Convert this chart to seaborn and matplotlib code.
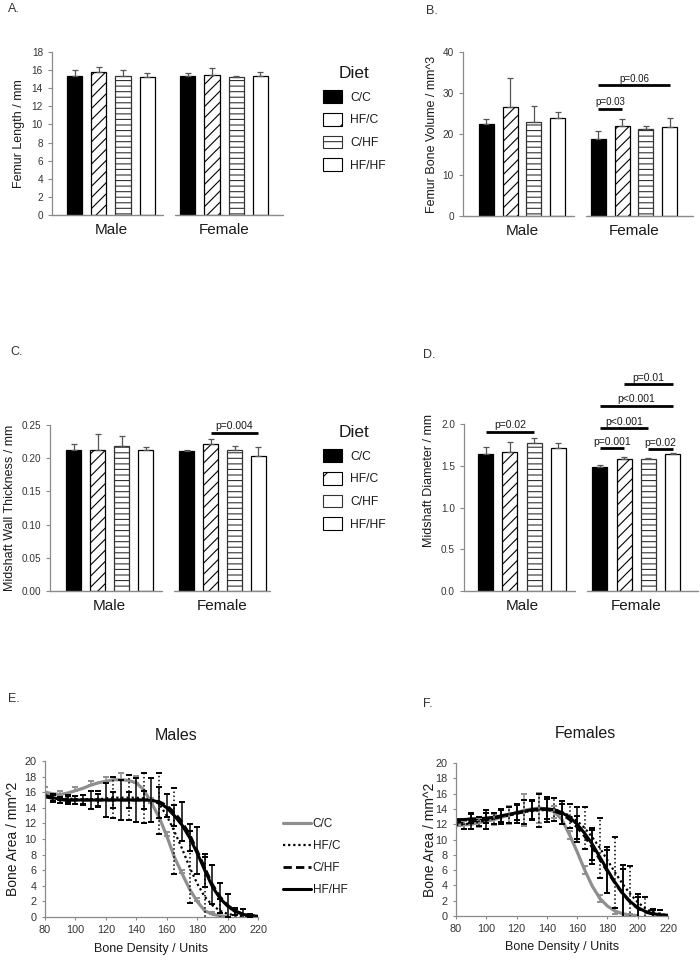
import numpy as np
import pandas as pd
import matplotlib
matplotlib.use("Agg")
import matplotlib.pyplot as plt
import seaborn as sns
from matplotlib.patches import Patch
from matplotlib.lines import Line2D

# ---------------- data ----------------
sexes = ["Male", "Female"]
diets = ["C/C", "HF/C", "C/HF", "HF/HF"]

# Panel A: femur length (mm)
len_male = [15.3, 15.8, 15.35, 15.25]
len_female = [15.4, 15.5, 15.2, 15.35]
len_male_err = [0.7, 0.5, 0.65, 0.4]
len_female_err = [0.3, 0.7, 0.1, 0.4]

# Panel B: femur bone volume (mm^3)
vol_male = [22.4, 26.7, 22.9, 23.9]
vol_female = [18.9, 21.9, 21.2, 21.6]
vol_male_err = [1.2, 6.9, 4.0, 1.4]
vol_female_err = [1.8, 1.7, 0.8, 2.2]

# Panel C: midshaft wall thickness (mm)
wall_male = [0.213, 0.213, 0.219, 0.213]
wall_female = [0.211, 0.221, 0.213, 0.204]
wall_male_err = [0.008, 0.023, 0.014, 0.004]
wall_female_err = [0.002, 0.008, 0.005, 0.013]

# Panel D: midshaft diameter (mm)
diam_male = [1.64, 1.67, 1.78, 1.72]
diam_female = [1.49, 1.58, 1.58, 1.64]
diam_male_err = [0.09, 0.12, 0.05, 0.06]
diam_female_err = [0.02, 0.03, 0.02, 0.02]

# significance brackets: (sex, diet_from, diet_to, y, label)
vol_pvals = [("Female", "C/C", "HF/C", 26.2, "p=0.03"),
             ("Female", "C/C", "HF/HF", 31.9, "p=0.06")]
wall_pvals = [("Female", "HF/C", "HF/HF", 0.238, "p=0.004")]
diam_pvals = [("Male", "C/C", "C/HF", 1.91, "p=0.02"),
              ("Female", "C/C", "HF/C", 1.71, "p=0.001"),
              ("Female", "C/HF", "HF/HF", 1.70, "p=0.02"),
              ("Female", "C/C", "C/HF", 1.95, "p<0.001"),
              ("Female", "C/C", "HF/HF", 2.22, "p<0.001"),
              ("Female", "HF/C", "HF/HF", 2.48, "p=0.01")]

# Panels E/F: bone area vs bone density
density = list(range(80, 225, 5))
nan = np.nan
m_cc = [16.0, 15.8, 15.7, 15.9, 16.2, 16.5, 16.9, 17.2, 17.4, 17.6, 17.6, 17.5, 17.2, 16.3, 14.6,
        12.8, 10.4, 7.7, 5.6, 3.6, 2.0, 0.8, 0.35, 0.15, 0.05, nan, nan, nan, nan]
m_cc_err = [0.7, nan, 0.5, nan, 0.5, nan, 0.5, nan, 0.6, nan, 0.8, nan, 0.9, nan, 0.7,
            nan, 0.5, nan, 0.4, nan, 0.4, nan, 0.3, nan, nan, nan, nan, nan, nan]
m_hfc = [15.5, 15.3, 15.2, 15.2, 15.1, 15.1, 15.1, 15.1, 15.2, 15.3, 15.3, 15.3, 15.3, 15.2, 15.0,
         14.5, 13.0, 11.0, 8.8, 6.4, 4.3, 2.6, 1.5, 0.8, 0.4, 0.2, 0.1, 0.05, 0.0]
m_hfc_err = [nan, 0.5, nan, 0.4, nan, 0.6, nan, 1.0, nan, 2.6, nan, 2.9, nan, 3.2, nan,
             3.9, nan, 5.5, nan, 4.6, nan, 5.1, nan, 1.5, nan, 0.8, nan, nan, nan]
m_chf = [15.4, 15.2, 15.0, 15.0, 15.0, 15.0, 15.0, 15.0, 15.0, 15.0, 15.0, 15.0, 15.0, 15.0, 15.0,
         14.8, 14.3, 13.4, 12.2, 10.6, 8.5, 6.3, 4.2, 2.6, 1.5, 0.8, 0.4, 0.2, 0.1]
m_chf_err = [nan, nan, 0.4, nan, 0.5, nan, 1.1, nan, 2.2, nan, 2.6, nan, 2.8, nan, 2.8,
             nan, 1.5, nan, 2.5, nan, 3.0, nan, 2.5, nan, 1.5, nan, 0.6, nan, nan]
m_hh = [15.6, 15.3, 15.1, 15.0, 15.0, 15.0, 15.0, 15.0, 15.0, 15.0, 15.0, 15.0, 15.0, 15.0, 15.0,
        14.7, 14.0, 13.0, 11.8, 10.2, 8.2, 6.0, 3.9, 2.4, 1.4, 0.7, 0.35, 0.15, 0.1]
m_hh_err = [nan, 0.4, nan, 0.5, nan, 0.6, nan, 0.8, nan, 1.0, nan, 1.0, nan, 1.2, nan,
            2.0, nan, 1.3, nan, 1.7, nan, 2.1, nan, 1.9, nan, 0.5, nan, 0.2, nan]

f_cc = [11.8, 11.9, 12.0, 12.2, 12.4, 12.6, 12.9, 13.2, 13.5, 13.8, 14.0, 14.1, 14.0, 13.6, 12.6,
        10.6, 8.4, 6.0, 3.9, 2.3, 1.3, 0.65, 0.3, 0.12, 0.05, nan, nan, nan, nan]
f_cc_err = [nan, 0.5, nan, 0.6, nan, 0.7, nan, 1.2, nan, 2.1, nan, 2.0, nan, 0.8, nan,
            0.5, nan, 0.5, nan, 0.5, nan, 0.4, nan, 0.2, nan, nan, nan, nan, nan]
f_hfc = [11.9, 12.0, 12.1, 12.3, 12.5, 12.7, 13.0, 13.2, 13.4, 13.6, 13.7, 13.8, 13.9, 13.9, 13.6,
         13.1, 12.4, 11.5, 10.3, 8.9, 7.3, 5.7, 4.2, 2.9, 1.8, 1.0, 0.5, 0.25, 0.1]
f_hfc_err = [nan, 0.6, nan, 0.6, nan, 0.7, nan, 1.0, nan, 1.6, nan, 2.2, nan, 1.5, nan,
             1.6, nan, 2.7, nan, 3.9, nan, 4.6, nan, 3.6, nan, 1.5, nan, 0.5, nan]
f_chf = [12.2, 12.3, 12.4, 12.5, 12.6, 12.8, 13.0, 13.2, 13.4, 13.6, 13.8, 13.9, 13.9, 13.7, 13.3,
         12.6, 11.6, 10.4, 9.0, 7.4, 5.8, 4.3, 2.9, 1.8, 1.0, 0.5, 0.25, 0.1, 0.05]
f_chf_err = [nan, nan, 1.0, nan, 1.2, nan, 1.0, nan, 1.2, nan, 1.2, nan, 1.6, nan, 1.3,
             nan, 1.5, nan, 2.2, nan, 2.8, nan, 3.3, nan, 1.5, nan, 0.5, nan, nan]
f_hh = [12.6, 12.6, 12.7, 12.7, 12.8, 12.9, 13.1, 13.3, 13.5, 13.7, 13.9, 14.0, 14.0, 13.9, 13.5,
        12.9, 12.0, 10.8, 9.4, 7.7, 6.0, 4.4, 3.0, 1.9, 1.1, 0.6, 0.3, 0.15, 0.1]
f_hh_err = [nan, nan, 0.6, nan, 0.7, nan, 0.8, nan, 1.0, nan, 1.2, nan, 1.3, nan, 1.5,
            nan, 2.3, nan, 2.1, nan, 3.0, nan, 3.7, nan, 1.8, nan, 0.6, nan, nan]

# ---------------- style ----------------
sns.set_style("ticks")
plt.rcParams["font.family"] = ["Liberation Sans", "DejaVu Sans"]
plt.rcParams["hatch.linewidth"] = 0.8

W, H = 700, 961
AX_GRAY = "#8a8a8a"
TXT = "#1a1a1a"
TICK_TXT = "#333333"

bar_styles = {
    "C/C": dict(fc="black", ec="black", hatch=""),
    "HF/C": dict(fc="white", ec="black", hatch="///"),
    "C/HF": dict(fc="white", ec="#333333", hatch="---"),
    "HF/HF": dict(fc="white", ec="black", hatch=""),
}

fig = plt.figure(figsize=(W / 100, H / 100), dpi=100)


def px_axes(l, t, r, b):
    return fig.add_axes([l / W, 1 - b / H, (r - l) / W, (b - t) / H])


def style_axes(ax):
    for s in ["top", "right"]:
        ax.spines[s].set_visible(False)
    for s in ["left", "bottom"]:
        ax.spines[s].set_color(AX_GRAY)
        ax.spines[s].set_linewidth(0.9)
    ax.tick_params(colors=AX_GRAY, labelcolor=TICK_TXT, length=3, width=0.8)


def draw_bars(ax, male, female, male_err, female_err, pvals, xlim, ylim, yticks, fmt,
              ylabel, label_x, ptxt_size, yspine=None):
    df = pd.DataFrame({"sex": np.repeat(sexes, 4), "diet": diets * 2,
                       "value": male + female, "err": male_err + female_err})
    sns.barplot(data=df, x="sex", y="value", hue="diet", order=sexes, hue_order=diets,
                width=0.85, gap=0.375, errorbar=None, legend=False, saturation=1, ax=ax)
    centers = {}
    for diet, cont in zip(diets, ax.containers):
        st = bar_styles[diet]
        for bar in cont:
            bar.set_facecolor(st["fc"])
            bar.set_edgecolor(st["ec"])
            bar.set_hatch(st["hatch"])
            bar.set_linewidth(0.9)
            xc = bar.get_x() + bar.get_width() / 2
            sex = sexes[int(round(xc))]
            row = df[(df.sex == sex) & (df.diet == diet)].iloc[0]
            ax.errorbar(xc, row.value, yerr=[[0], [row.err]], fmt="none", ecolor="#555555",
                        elinewidth=0.9, capsize=2.2, capthick=0.9, zorder=3)
            centers[(sex, diet)] = xc
    for sex, d0, d1, y, lab in pvals:
        x0, x1 = centers[(sex, d0)], centers[(sex, d1)]
        ax.plot([x0, x1], [y, y], color="black", lw=2.0, solid_capstyle="butt",
                clip_on=False, zorder=4)
        ax.annotate(lab, ((x0 + x1) / 2, y), xytext=(0, 1.2), textcoords="offset points",
                    ha="center", va="bottom", fontsize=ptxt_size, color=TXT,
                    annotation_clip=False)
    ax.set_xlim(*xlim)
    ax.set_ylim(*ylim)
    style_axes(ax)
    ax.spines["bottom"].set_visible(False)
    for seg in [(xlim[0], 0.46), (0.57, xlim[1])]:
        ax.plot(seg, [0, 0], color=AX_GRAY, lw=1.0, clip_on=False, zorder=5)
    ax.set_yticks(yticks)
    ax.set_yticklabels([fmt.format(v) for v in yticks], fontsize=7.2)
    if yspine is not None:
        ax.spines["left"].set_bounds(*yspine)
    ax.tick_params(axis="x", length=0, pad=6, labelsize=11, labelcolor=TXT)
    ax.set_xlabel("")
    ax.set_ylabel(ylabel, fontsize=9, color=TXT)
    ax.yaxis.set_label_coords(label_x, 0.5)


# Panel A
axA = px_axes(52, 52, 283, 215)
draw_bars(axA, len_male, len_female, len_male_err, len_female_err, [], (-0.522, 1.522), (0, 18),
          list(range(0, 19, 2)), "{:d}", "Femur Length / mm", (25 - 52) / 231, 7)

# Panel B
axB = px_axes(463, 52, 693, 216)
draw_bars(axB, vol_male, vol_female, vol_male_err, vol_female_err, vol_pvals, (-0.527, 1.527),
          (0, 40), [0, 10, 20, 30, 40], "{:d}", "Femur Bone Volume / mm^3",
          (438 - 463) / 230, 7)

# Panel C
axC = px_axes(50, 425, 270, 591)
draw_bars(axC, wall_male, wall_female, wall_male_err, wall_female_err, wall_pvals,
          (-0.53, 1.421), (0, 0.25), [0.0, 0.05, 0.10, 0.15, 0.20, 0.25], "{:.2f}",
          "Midshaft Wall Thickness / mm", (16 - 50) / 220, 7.5)

# Panel D
axD = px_axes(464, 370, 698, 591)
draw_bars(axD, diam_male, diam_female, diam_male_err, diam_female_err, diam_pvals,
          (-0.508, 1.54), (0, 2.65), [0.0, 0.5, 1.0, 1.5, 2.0], "{:.1f}",
          "Midshaft Diameter / mm", (435 - 464) / 234, 7.5, yspine=(0, 2.0))

# Bar legends
def bar_legend(top_px):
    handles = [Patch(facecolor=bar_styles[d]["fc"], edgecolor=bar_styles[d]["ec"],
                     hatch=bar_styles[d]["hatch"].replace("///", "/").replace("---", "-"),
                     linewidth=0.8) for d in diets]
    leg = fig.legend(handles, diets, title="Diet", loc="upper left",
                     bbox_to_anchor=(323 / W, 1 - top_px / H), frameon=False,
                     fontsize=8.7, title_fontsize=12.5, handlelength=1.57, handleheight=1.24,
                     labelspacing=0.77, handletextpad=0.66, borderpad=0, borderaxespad=0)
    for t in leg.get_texts():
        t.set_color(TXT)
    leg.get_title().set_color(TXT)


bar_legend(66)
bar_legend(425)

# Density panels
line_specs = [
    ("C/C", dict(color="#8f8f8f", lw=2.3, linestyle="-"), "#8f8f8f", "-", True),
    ("HF/C", dict(color="black", lw=1.6, linestyle=(0, (1, 1.3))), "black", ":", False),
    ("C/HF", dict(color="black", lw=2.0, linestyle=(0, (3, 1.5))), "black", "-", False),
    ("HF/HF", dict(color="black", lw=2.2, linestyle="-"), "black", "-", False),
]


def draw_density(ax, series, label_x, xlab_y, up_only_first):
    x = np.array(density, dtype=float)
    for (name, lkw, ecol, els, is_first), (y, err) in zip(line_specs, series):
        y = np.array(y, dtype=float)
        err = np.array(err, dtype=float)
        ok = ~np.isnan(y)
        sns.lineplot(x=x[ok], y=y[ok], ax=ax, estimator=None, errorbar=None, sort=False,
                     legend=False, **lkw)
        m = ~np.isnan(err) & ok
        if is_first and up_only_first:
            yerr = [np.zeros(m.sum()), err[m]]
        else:
            yerr = err[m]
        eb = ax.errorbar(x[m], y[m], yerr=yerr, fmt="none", ecolor=ecol, elinewidth=1.1,
                         capsize=2.0, capthick=1.4, zorder=3)
        if els == ":":
            for lc in eb[2]:
                lc.set_linestyle(":")
    ax.set_xlim(80, 220)
    ax.set_ylim(0, 20)
    ax.set_xticks(range(80, 221, 20))
    ax.set_yticks(range(0, 21, 2))
    style_axes(ax)
    ax.tick_params(labelsize=7.8, length=2.5)
    ax.set_xlabel("Bone Density / Units", fontsize=9, color=TXT)
    ax.set_ylabel("Bone Area / mm^2", fontsize=10, color=TXT)
    ax.yaxis.set_label_coords(label_x, 0.5)
    ax.xaxis.set_label_coords(0.5, xlab_y)


axE = px_axes(45, 761, 258, 917)
draw_density(axE, [(m_cc, m_cc_err), (m_hfc, m_hfc_err), (m_chf, m_chf_err), (m_hh, m_hh_err)],
             (20 - 45) / 213, (917 - 943) / 156, True)
axF = px_axes(456, 763, 668, 916)
draw_density(axF, [(f_cc, f_cc_err), (f_hfc, f_hfc_err), (f_chf, f_chf_err), (f_hh, f_hh_err)],
             (437 - 456) / 212, (916 - 941) / 153, False)

fig.text(176 / W, 1 - 736 / H, "Males", fontsize=11.5, ha="center", va="center", color=TXT)
fig.text(585 / W, 1 - 733 / H, "Females", fontsize=11.5, ha="center", va="center", color=TXT)

line_handles = [Line2D([0], [0], **spec[1]) for spec in line_specs]
leg = fig.legend(line_handles, [s[0] for s in line_specs], loc="upper left",
                 bbox_to_anchor=(283 / W, 1 - 818 / H), frameon=False, fontsize=8.5,
                 handlelength=2.4, handletextpad=0.1, labelspacing=0.85, borderpad=0,
                 borderaxespad=0)
for t in leg.get_texts():
    t.set_color(TXT)

# Panel letters
for lab, xp, yp in [("A.", 8, 9), ("B.", 426, 11), ("C.", 10, 352), ("D.", 423, 355),
                    ("E.", 8, 699), ("F.", 423, 704)]:
    fig.text(xp / W, 1 - yp / H, lab, fontsize=9, ha="left", va="center", color="#333333")

fig.savefig("out.png", dpi=100)
